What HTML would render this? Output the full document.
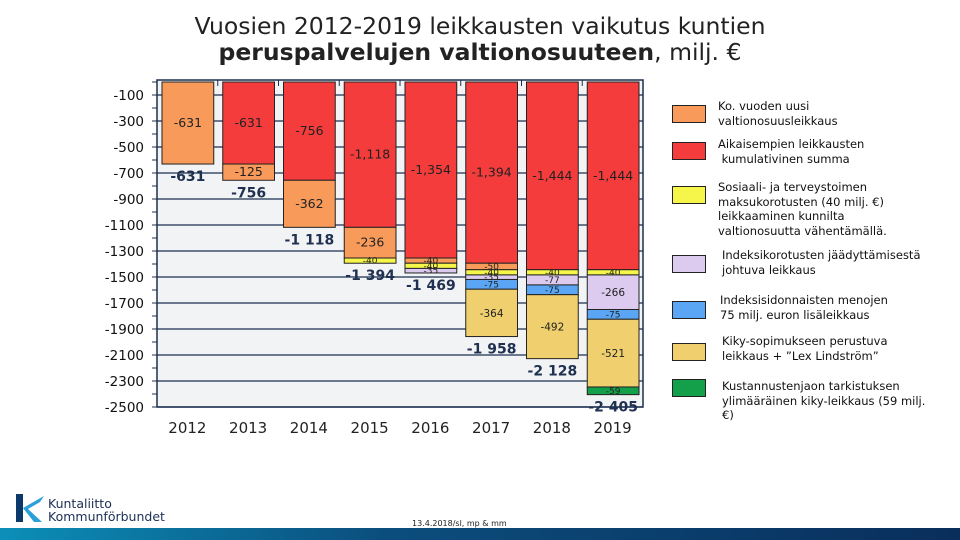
<!DOCTYPE html>
<html><head><meta charset="utf-8">
<style>
body{margin:0;width:960px;height:540px;background:#fff;overflow:hidden;font-family:"DejaVu Sans","Liberation Sans",sans-serif;position:relative}
.t{position:absolute;left:0;width:960px;text-align:center;font-size:23.5px;line-height:26px;color:#222}
.sw{position:absolute;left:672px;width:32px;height:16px;border:1px solid #222}
.lt{position:absolute;left:718px;font-size:11.5px;line-height:14.5px;color:#111;width:215px}
</style></head><body>
<div class="t" style="top:13px">Vuosien 2012-2019 leikkausten vaikutus kuntien</div>
<div class="t" style="top:39px"><b>peruspalvelujen valtionosuuteen</b>, milj. €</div>
<svg id="c" width="960" height="540" style="position:absolute;left:0;top:0"></svg>
<div class="sw" style="top:105px;background:#f79a5a"></div>
<div class="lt" style="top:99px">Ko. vuoden uusi<br>valtionosuusleikkaus</div>
<div class="sw" style="top:142px;background:#f43c3c"></div>
<div class="lt" style="top:137px">Aikaisempien leikkausten<br>&nbsp;kumulativinen summa</div>
<div class="sw" style="top:186px;background:#f5f54a"></div>
<div class="lt" style="top:180px">Sosiaali- ja terveystoimen<br>maksukorotusten (40 milj. €)<br>leikkaaminen kunnilta<br>valtionosuutta vähentämällä.</div>
<div class="sw" style="top:255px;background:#dccbef"></div>
<div class="lt" style="top:248px;left:722px">Indeksikorotusten jäädyttämisestä<br>johtuva leikkaus</div>
<div class="sw" style="top:301px;background:#5aa6f5"></div>
<div class="lt" style="top:293px;left:720px">Indeksisidonnaisten menojen<br>75 milj. euron lisäleikkaus</div>
<div class="sw" style="top:343px;background:#efcf6e"></div>
<div class="lt" style="top:334px;left:722px">Kiky-sopimukseen perustuva<br>leikkaus + ”Lex Lindström”</div>
<div class="sw" style="top:379px;background:#14a04a"></div>
<div class="lt" style="top:379px;left:722px;width:225px">Kustannustenjaon tarkistuksen<br>ylimääräinen kiky-leikkaus (59 milj.<br>€)</div>
<div style="position:absolute;left:14px;top:494px;width:32px;height:30px">
<svg width="32" height="30"><rect x="2" y="0" width="7" height="28" fill="#0b3a6a"/><path d="M9 14 L30 2 L26 8 L14 15 L28 28 L20 28 Z" fill="#2a9fd8"/></svg></div>
<div style="position:absolute;left:48px;top:497px;font-size:12.5px;line-height:13px;color:#1b2f55">Kuntaliitto<br>Kommunförbundet</div>
<div style="position:absolute;left:412px;top:519px;font-size:8px;color:#222">13.4.2018/sl, mp &amp; mm</div>
<div style="position:absolute;left:0;top:528px;width:960px;height:12px;background:linear-gradient(90deg,#0b8fb8,#0b4e7d 40%,#0a2e5c)"></div>
<script>
const categories=["2012","2013","2014","2015","2016","2017","2018","2019"];
const cumulative=[0,-631,-756,-1118,-1354,-1394,-1444,-1444];
const newCut=[-631,-125,-362,-236,-40,-50,0,0];
const fees=[0,0,0,-40,-40,-40,-40,-40];
const indexFreeze=[0,0,0,0,-35,-35,-77,-266];
const index75=[0,0,0,0,0,-75,-75,-75];
const kiky=[0,0,0,0,0,-364,-492,-521];
const kikyExtra=[0,0,0,0,0,0,0,-59];
const totals=[-631,-756,-1118,-1394,-1469,-1958,-2128,-2405];
const totalLabels=["-631","-756","-1 118","-1 394","-1 469","-1 958","-2 128","-2 405"];
const yTicks=[-100,-300,-500,-700,-900,-1100,-1300,-1500,-1700,-1900,-2100,-2300,-2500];
const yTickLabels=["-100","-300","-500","-700","-900","-1100","-1300","-1500","-1700","-1900","-2100","-2300","-2500"];
const series=[
 {name:"cumulative",d:cumulative,c:"#f43c3c"},
 {name:"new-cut",d:newCut,c:"#f79a5a"},
 {name:"fees",d:fees,c:"#f5f54a"},
 {name:"index-freeze",d:indexFreeze,c:"#dccbef"},
 {name:"index-75",d:index75,c:"#5aa6f5"},
 {name:"kiky",d:kiky,c:"#efcf6e"},
 {name:"kiky-extra",d:kikyExtra,c:"#14a04a"}];
const L=157,R=643,T=82,B=407;
const y=v=>T+(-v)*(B-T)/2500;
const slot=(R-L)/categories.length;
const x=i=>L+i*slot+5;
const bw=slot-9;
const s=document.getElementById('c');
const NS="http://www.w3.org/2000/svg";
function mk(t,a){const e=document.createElementNS(NS,t);for(const k in a)e.setAttribute(k,a[k]);s.appendChild(e);return e;}
const bg=mk('rect',{x:L,y:80,width:R-L,height:B-80,fill:'#f2f3f5'});


yTicks.forEach((v,i)=>{
 const g=mk('line',{x1:L,x2:R,y1:y(v),y2:y(v),stroke:'#1c2f4f','stroke-width':1.2});
 
 
 mk('line',{x1:L-5,x2:L,y1:y(v),y2:y(v),stroke:'#1c2f4f'});
 mk('line',{x1:L-5,x2:L,y1:y(v+100),y2:y(v+100),stroke:'#1c2f4f'});
 const t=mk('text',{x:144,y:y(v)+5,'text-anchor':'end','font-size':13.5,fill:'#111'});
 t.textContent=yTickLabels[i];
 
 
});
categories.forEach((c,i)=>{
 mk('line',{x1:L+i*slot,x2:L+i*slot,y1:80,y2:86,stroke:'#1c2f4f'});
 let acc=0;
 series.forEach(sr=>{
  const v=sr.d[i]; if(!v) return;
  const y0=y(acc),y1=y(acc+v); acc+=v;
  const r=mk('rect',{x:x(i),y:y0,width:bw,height:y1-y0,fill:sr.c,stroke:'#222','stroke-width':1});
  
  
  const h=y1-y0;
  const t=mk('text',{x:x(i)+bw/2,y:(y0+y1)/2+(h<12?3:4),'text-anchor':'middle','font-size':h<12?9:(sr.name=='cumulative'||sr.name=='new-cut'?12.5:10.5),fill:'#222'});
  t.textContent=(v<=-1000?"-"+String(-v).replace(/(\d)(\d{3})$/,"$1,$2"):String(v));
  
  
 });
 const tl=mk('text',{x:x(i)+bw/2,y:y(totals[i])+17,'text-anchor':'middle','font-size':14,'font-weight':'bold',fill:'#1f3050'});
 tl.textContent=totalLabels[i];
 
 
 const cl=mk('text',{x:L+i*slot+slot/2,y:433,'text-anchor':'middle','font-size':15,fill:'#222'});
 cl.textContent=c;
 
 
});
const fr=mk('rect',{x:L,y:80,width:R-L,height:B-80,fill:'none',stroke:'#1c2f4f','stroke-width':1.5});


</script>
</body></html>
